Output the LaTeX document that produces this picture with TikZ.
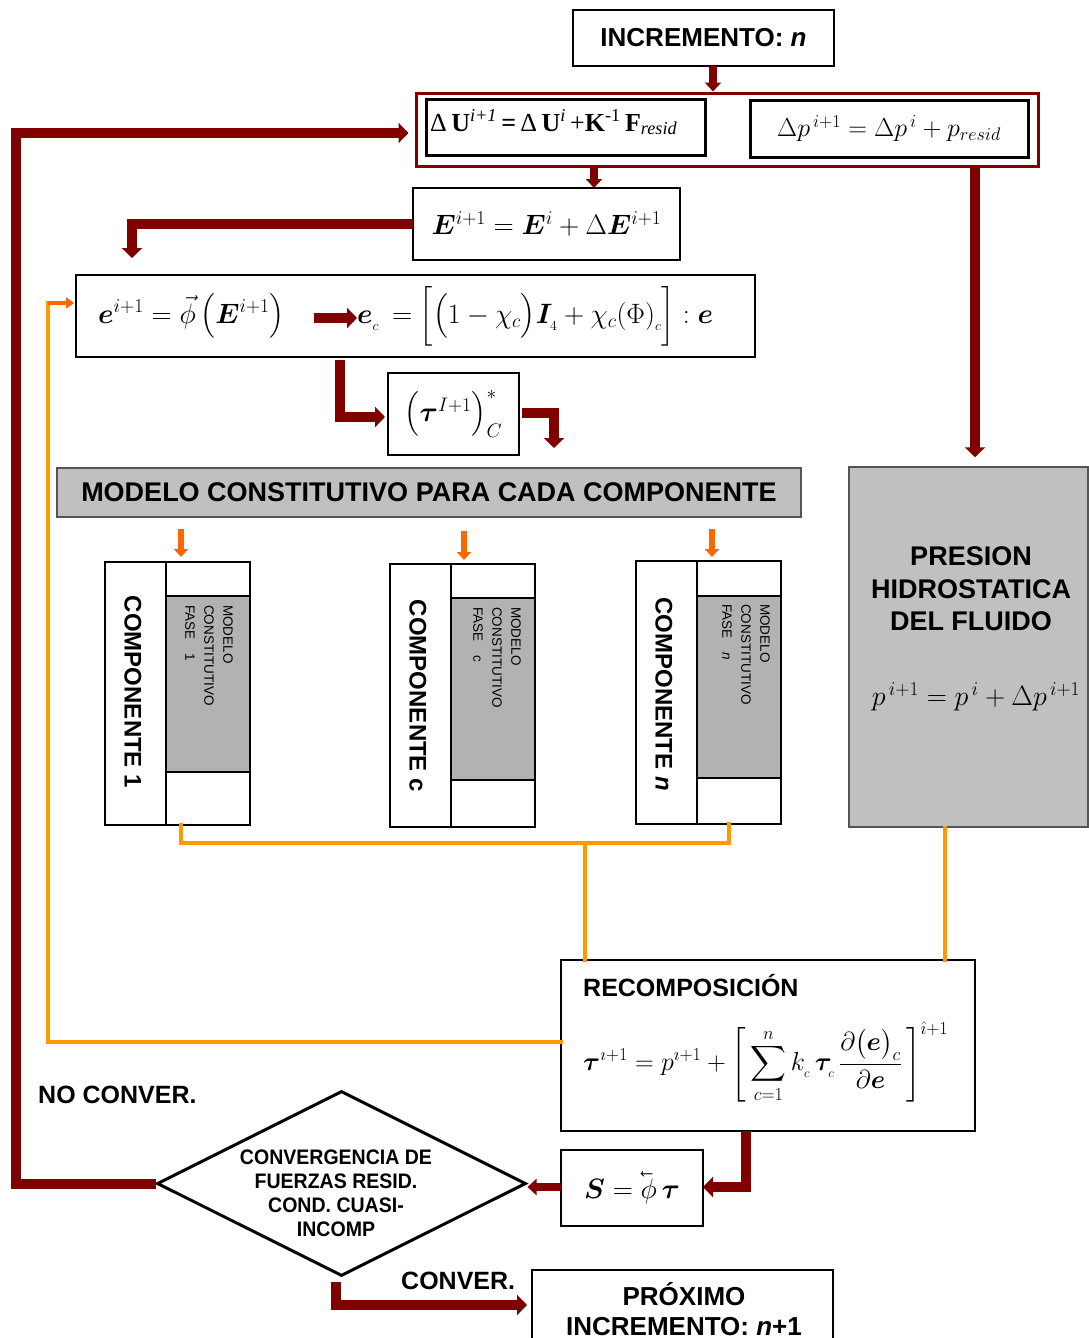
\RequirePackage{fix-cm}
\documentclass[tikz,border=0pt]{standalone}
\usepackage{amsmath}
\usepackage{fontspec}
\usepackage{bm}
\newfontfamily\sfb{Liberation Sans}
\newfontfamily\sfn[FakeStretch=0.93]{Liberation Sans}
\newfontfamily\tnr{Liberation Serif}
\usetikzlibrary{arrows.meta,shapes.geometric}
\definecolor{dkred}{HTML}{800000}
\definecolor{orln}{HTML}{FF9900}
\definecolor{orar}{HTML}{FF6600}
\definecolor{gbox}{HTML}{C0C0C0}
\definecolor{gin}{HTML}{B2B2B2}
\definecolor{gbd}{HTML}{555555}
\begin{document}
\begin{tikzpicture}[x=1pt,y=-1pt,
  bx/.style={draw=black,line width=2.2pt,inner sep=0pt,outer sep=0pt,fill=white},
  drA/.style={draw=dkred,line width=10pt,-{Triangle[width=20pt,length=10pt]}},
  drB/.style={draw=dkred,line width=8pt,-{Triangle[width=16pt,length=9pt]}},
  orA/.style={draw=orar,line width=6pt,-{Triangle[width=14pt,length=8pt]}},
  orL/.style={draw=orln,line width=4pt,line cap=rect},
  fm/.style={inner sep=0pt,font=\fontsize{28}{34}\selectfont},
  lab/.style={inner sep=0pt,font=\sfb\bfseries\fontsize{25}{30}\selectfont}]
\useasboundingbox (0,0) rectangle (1089,1338);

% top
\node[bx,line width=2.5pt,minimum width=261pt,minimum height=56pt] (inc) at (703.5,38) {\sfb\bfseries\fontsize{26}{30}\selectfont INCREMENTO: \textit{n}};
\node[draw=dkred,line width=3pt,minimum width=622pt,minimum height=73pt,inner sep=0pt] (outer) at (727,129.5) {};
\node[bx,line width=3pt,minimum width=279pt,minimum height=56pt] (u) at (565.5,127) {};
\node[anchor=base west,inner sep=0pt] (ut) at (430,131) {\tnr\fontsize{26}{30}\selectfont Δ\,\textbf{U}\textsuperscript{\itshape i+1}\,\textbf{=}\,Δ\,\textbf{U}\textsuperscript{\itshape i}\,+\textbf{K}\textsuperscript{-1}\,\textbf{F}\textsubscript{\itshape resid}};
\node[bx,line width=3pt,minimum width=278pt,minimum height=57pt,font=\fontsize{26}{30}\selectfont] (dp) at (889,128.5) {$\Delta p^{\,i+1} = \Delta p^{\,i} + p_{resid}$};

\node[bx,minimum width=267pt,minimum height=72pt,font=\fontsize{28}{34}\selectfont] (E) at (546.5,224) {$\bm E^{i+1} = \bm E^{i} + \Delta \bm E^{i+1}$};

\node[bx,minimum width=679pt,minimum height=82pt] (ebox) at (415.5,316) {};
\node[fm,anchor=west] (e1) at (98,316) {$\bm e^{i+1} = \vec{\phi}\,\big(\bm E^{i+1}\big)$};
\node[fm,anchor=west] (e2) at (357,316) {$\bm e_{_c} \,= \Big[\big(1-\chi_{c}\big)\bm I_{_4} + \chi_{c}(\Phi)_{_c}\Big]:\bm e$};
\coordinate (ea1) at (314,318);
\coordinate (ea2) at (357,318);

\node[bx,minimum width=131pt,minimum height=82pt,font=\fontsize{28}{34}\selectfont] (tau) at (453.5,414) {$\big(\bm\tau^{I+1}\big)^{*}_{C}$};
\coordinate (tauo) at (554,448);

% banner
\node[draw=gbd,line width=1.5pt,fill=gbox,minimum width=744pt,minimum height=49pt,inner sep=0pt,font=\sfb\bfseries\fontsize{27}{30}\selectfont] (ban) at (429,492.5) {MODELO CONSTITUTIVO PARA CADA COMPONENTE};

% presion
\node[draw=gbd,line width=1.5pt,fill=gbox,minimum width=239pt,minimum height=360pt,inner sep=0pt] (pres) at (968.5,647) {};
\node[align=center,inner sep=0pt,font=\sfb\bfseries\fontsize{27}{32.5}\selectfont] (prest) at (971,589) {PRESION\\HIDROSTATICA\\DEL FLUIDO};
\node[fm] (presf) at (976,697) {$p^{\,i+1} = p^{\,i} + \Delta p^{\,i+1}$};

% components
\node[bx,line width=2.5pt,minimum width=61pt,minimum height=263pt] (c1l) at (135.5,693.5) {};
\node[bx,line width=2.5pt,minimum width=84pt,minimum height=263pt] (c1r) at (208,693.5) {};
\node[draw=black,line width=2.5pt,fill=gin,minimum width=84pt,minimum height=176pt,inner sep=0pt] (c1g) at (208,684) {};
\node[rotate=-90,anchor=north west,align=left,inner sep=0pt,font=\sfb\fontsize{13.5}{19}\selectfont] (c1t) at (233,605) {MODELO\\CONSTITUTIVO\\FASE\quad 1};
\node[rotate=-90,inner sep=0pt,font=\sfb\bfseries\fontsize{24}{28}\selectfont] (c1n) at (133,692) {COMPONENTE 1};

\node[bx,line width=2.5pt,minimum width=61pt,minimum height=263pt] (ccl) at (420.5,695.5) {};
\node[bx,line width=2.5pt,minimum width=84pt,minimum height=263pt] (ccr) at (493,695.5) {};
\node[draw=black,line width=2.5pt,fill=gin,minimum width=84pt,minimum height=182pt,inner sep=0pt] (ccg) at (493,689) {};
\node[rotate=-90,anchor=north west,align=left,inner sep=0pt,font=\sfb\fontsize{13.5}{19}\selectfont] (cct) at (521,607) {MODELO\\CONSTITUTIVO\\FASE\quad c};
\node[rotate=-90,inner sep=0pt,font=\sfb\bfseries\fontsize{24}{28}\selectfont] (ccn) at (418,696) {COMPONENTE c};

\node[bx,line width=2.5pt,minimum width=61pt,minimum height=263pt] (cnl) at (666.5,692.5) {};
\node[bx,line width=2.5pt,minimum width=84pt,minimum height=263pt] (cnr) at (739,692.5) {};
\node[draw=black,line width=2.5pt,fill=gin,minimum width=84pt,minimum height=182pt,inner sep=0pt] (cng) at (739,687) {};
\node[rotate=-90,anchor=north west,align=left,inner sep=0pt,font=\sfb\fontsize{13.5}{19}\selectfont] (cnt) at (770,604) {MODELO\\CONSTITUTIVO\\FASE\quad \textit{n}};
\node[rotate=-90,inner sep=0pt,font=\sfb\bfseries\fontsize{24}{28}\selectfont] (cnn) at (664,694) {COMPONENTE \textit{n}};

% recomposicion
\node[bx,minimum width=414pt,minimum height=171pt] (rec) at (768,1045.5) {};
\node[lab,anchor=base west] (rect) at (583,996) {RECOMPOSICIÓN};
\node[anchor=west,inner sep=0pt,font=\fontsize{26}{30}\selectfont] (recf) at (583,1062) {$\displaystyle \bm\tau^{\imath+1} = p^{\imath+1} + \left[\,\sum_{c=1}^{n} k_{_c}\,\bm\tau_{_c}\,\frac{\partial\big(\bm e\big)_{c}}{\partial\bm e}\,\right]^{\hat\imath+1}$};

% S box, diamond
\node[bx,minimum width=142pt,minimum height=76pt,font=\fontsize{28}{34}\selectfont] (sb) at (632,1188) {$\bm S = \reflectbox{$\vec{\reflectbox{$\phi$}}$}\,\bm\tau$};
\node[draw=black,line width=3pt,shape=diamond,minimum width=369pt,minimum height=185pt,inner sep=0pt,fill=white] (dia) at (341.5,1183.5) {};
\node[align=center,inner sep=0pt,font=\sfn\bfseries\fontsize{21}{24}\selectfont] (diat) at (336,1193) {CONVERGENCIA DE\\FUERZAS RESID.\\COND. CUASI-\\INCOMP};

\node[bx,minimum width=301pt,minimum height=80pt] (prox) at (682.5,1310) {};
\node[align=center,inner sep=0pt,font=\sfb\bfseries\fontsize{26}{30}\selectfont] (proxt) at (684,1309) {PRÓXIMO\\INCREMENTO: \textit{n}+1};

\node[lab,anchor=base west] (nc) at (38,1103) {NO CONVER.};
\node[lab,anchor=base west] (cv) at (401,1289) {CONVER.};

% dark red connectors
\draw[drB] (inc.south -| 713,0) -- (outer.north -| 713,0);
\draw[drB] (outer.south -| 594,0) -- (E.north -| 594,0);
\draw[drA,shorten >=17pt] (E.west) -| (ebox.north -| 132,0);
\draw[drA,shorten >=6pt] (dia.west) -| (16,133) -- (outer.west |- 0,133);
\draw[drA,shorten >=9pt] (outer.south -| 975,0) -- (pres.north -| 975,0);
\draw[drA] (ea1) -- (ea2);
\draw[drA,shorten <=3pt,shorten >=3pt] (ebox.south -| 340,0) |- (tau.west |- 0,417);
\draw[drA,shorten <=3pt] (tau.east |- 0,413) -| (tauo);
\draw[drA] (rec.south -| 746,0) |- (sb.east |- 0,1187);
\draw[drB] (sb.west |- 0,1187) -- (dia.east |- 0,1187);
\draw[drA,shorten <=4pt,shorten >=5pt] (dia.south -| 336,0) |- (prox.west |- 0,1305);

% orange connectors
\draw[orA,shorten <=11pt,shorten >=5pt] (ban.south -| 181,0) -- (c1r.north -| 181,0);
\draw[orA,shorten <=13pt,shorten >=4pt] (ban.south -| 464,0) -- (ccr.north -| 464,0);
\draw[orA,shorten <=11pt,shorten >=4pt] (ban.south -| 712,0) -- (cnr.north -| 712,0);
\coordinate (oj) at (585,843);
\draw[orL] (c1r.south -| 181,0) |- (oj) -| (cnr.south -| 729,0);
\draw[orL] (oj) -- (rec.north -| oj);
\draw[orL] (pres.south -| 945,0) -- (rec.north -| 945,0);
\coordinate (of) at (48,303);
\draw[orL] (rec.west |- 0,1042) -| (of);
\draw[draw=orar,line width=4pt,shorten >=2pt,-{Triangle[width=11pt,length=8pt]}] (of) -- (ebox.west |- of);
\end{tikzpicture}
\end{document}
